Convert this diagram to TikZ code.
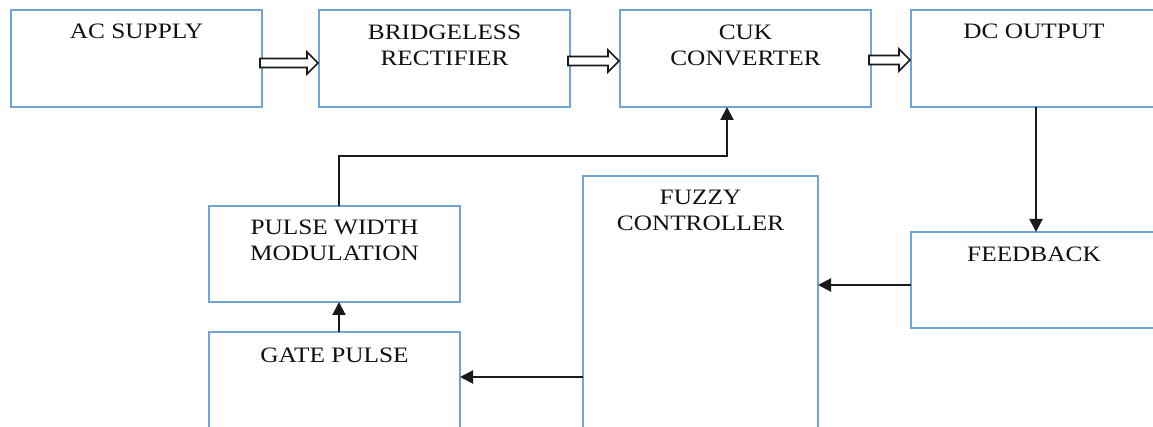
\documentclass[tikz,border=0pt]{standalone}
\usepackage{fontspec}
\setmainfont{Liberation Serif}[FakeStretch=1.15]
\usetikzlibrary{arrows.meta,calc}
\definecolor{boxblue}{HTML}{6FA3DA}
\definecolor{ink}{HTML}{111111}
\definecolor{wire}{HTML}{1A1A1A}
\tikzset{
  block/.style={draw=boxblue, line width=1.6pt, fill=white, rectangle,
    inner sep=0pt, outer sep=0pt, anchor=north west},
  lbl/.style={anchor=base, inner sep=0pt, text=ink,
    font=\fontsize{22}{26}\selectfont},
  conn/.style={draw=wire, line width=2pt,
    -{Triangle[width=13pt,length=13pt]}},
  hollow/.style={draw=wire, line width=1.6pt, fill=white, line join=miter},
}
% wide outlined arrow between two blocks at height #3
\newcommand\widearrow[3]{%
  \coordinate (wa) at (#1.east |- #3);
  \coordinate (wb) at (#2.west |- #3);
  \draw[hollow] ($(wa)+(-2,-4.5)$) -- ($(wb)+(-12,-4.5)$) -- ($(wb)+(-12,-11)$)
    -- ($(wb)+(-1,0)$) -- ($(wb)+(-12,11)$) -- ($(wb)+(-12,4.5)$) -- ($(wa)+(-2,4.5)$) -- cycle;
}
\begin{document}
\begin{tikzpicture}[x=1pt, y=-1pt]
\useasboundingbox (0,0) rectangle (1153,427);
\clip (0,0) rectangle (1153,427);
\fill[white] (0,0) rectangle (1153,427);

% blocks
\node[block, minimum width=251pt, minimum height=97pt] (ac)    at (11,10)  {};
\node[block, minimum width=251pt, minimum height=97pt] (br)    at (319,10) {};
\node[block, minimum width=251pt, minimum height=97pt] (cuk)   at (620,10) {};
\node[block, minimum width=246pt, minimum height=97pt] (dc)    at (911,10) {};
\node[block, minimum width=251pt, minimum height=96pt] (pwm)   at (209,206) {};
\node[block, minimum width=251pt, minimum height=120pt] (gate) at (209,332) {};
\node[block, minimum width=235pt, minimum height=280pt] (fuzzy) at (583,176) {};
\node[block, minimum width=246pt, minimum height=96pt] (fb)    at (911,232) {};

% block titles
\node[lbl] (tac)  at ($(ac.north)+(0,29)$)  {AC SUPPLY};
\node[lbl] (tbr1) at ($(br.north)+(0,30)$)  {BRIDGELESS};
\node[lbl] (tbr2) at ($(br.north)+(0,56)$)  {RECTIFIER};
\node[lbl] (tcu1) at ($(cuk.north)+(0,30)$) {CUK};
\node[lbl] (tcu2) at ($(cuk.north)+(0,56)$) {CONVERTER};
\node[lbl] (tdc)  at ($(dc.north)+(0,29)$)  {DC OUTPUT};
\node[lbl] (tpw1) at ($(pwm.north)+(0,29)$) {PULSE WIDTH};
\node[lbl] (tpw2) at ($(pwm.north)+(0,55)$) {MODULATION};
\node[lbl] (tgp)  at ($(gate.north)+(0,30)$) {GATE PULSE};
\node[lbl] (tfz1) at ($(fuzzy.north)+(0,29)$) {FUZZY};
\node[lbl] (tfz2) at ($(fuzzy.north)+(0,55)$) {CONTROLLER};
\node[lbl] (tfb)  at ($(fb.north)+(0,30)$)  {FEEDBACK};

% power path
\coordinate (h1) at (0,63);
\coordinate (h2) at (0,61);
\coordinate (h3) at (0,60);
\widearrow{ac}{br}{h1}
\widearrow{br}{cuk}{h2}
\widearrow{cuk}{dc}{h3}

% control loop
\coordinate (p1) at (339,156);
\coordinate (c1) at (727,156);
\coordinate (q)  at (1036,0);
\coordinate (r)  at (0,285);
\coordinate (s)  at (0,377);
\draw[conn] (pwm.north -| p1) -- (p1) -- (c1) -- (cuk.south -| c1);
\draw[conn] (dc.south -| q) -- (fb.north -| q);
\draw[conn] (fb.west |- r) -- (fuzzy.east |- r);
\draw[conn] (fuzzy.west |- s) -- (gate.east |- s);
\draw[conn] (gate.north -| p1) -- (pwm.south -| p1);
\end{tikzpicture}
\end{document}
